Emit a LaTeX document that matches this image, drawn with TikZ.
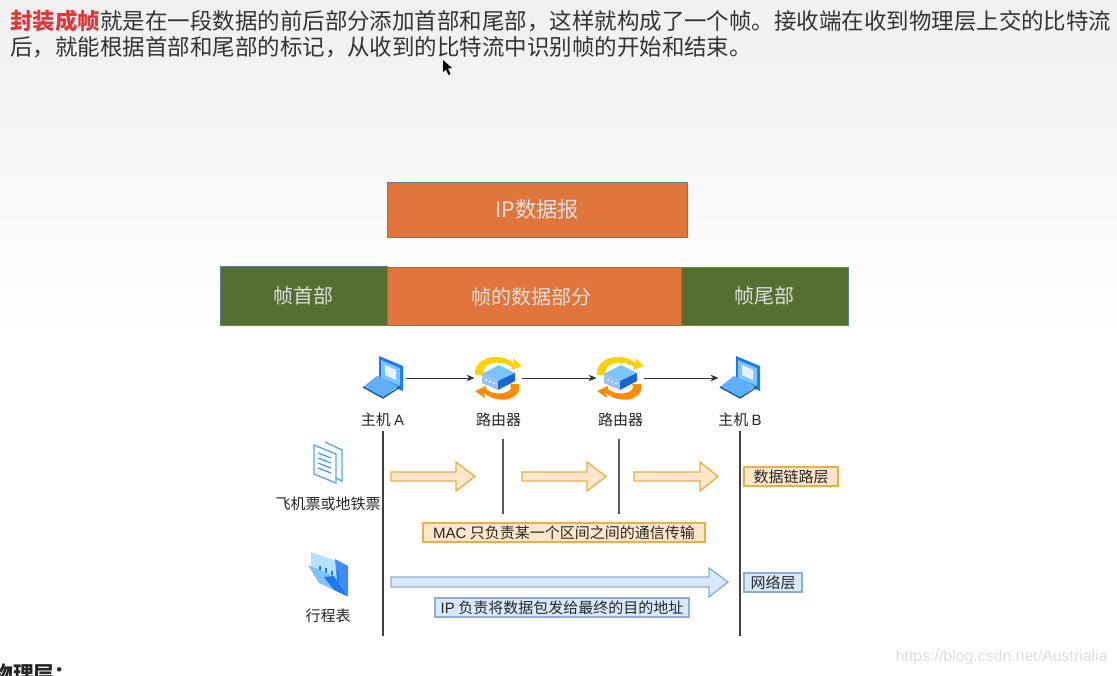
\documentclass[tikz,border=0pt]{standalone}
\usepackage{fontspec}
\setmainfont{Noto Sans CJK SC}
\newfontfamily\latinfont{Liberation Sans}
\usetikzlibrary{arrows.meta}
\definecolor{framegreen}{HTML}{546F30}
\definecolor{frameorange}{HTML}{E0763C}
\definecolor{frameedge}{HTML}{5F7F8F}
\definecolor{macfill}{HTML}{FFE6CC}
\definecolor{macedge}{HTML}{E8B045}
\definecolor{ipfill}{HTML}{DAE8FC}
\definecolor{ipedge}{HTML}{8FACD8}
\definecolor{iconblue}{HTML}{1E78F0}
\definecolor{iconlight}{HTML}{7CC4FF}
\definecolor{headred}{HTML}{E0393B}
\tikzset{every picture/.style={line width=0.75pt}}
\tikzset{
  framebox/.style={draw=frameedge,text=white!88!black,font=\fontsize{15}{18}\selectfont,inner sep=0pt},
  celllabel/.style={inner sep=0.75pt,text=black!85,font=\fontsize{11.25}{13}\selectfont},
  macbox/.style={draw=macedge,fill=macfill,line width=1pt,inner sep=0pt,text=black!85,font=\fontsize{11.25}{13}\selectfont},
  ipbox/.style={draw=ipedge,fill=ipfill,line width=1pt,inner sep=0pt,text=black!85,font=\fontsize{11.25}{13}\selectfont},
  macblock/.style={draw=macedge,fill=macfill,line width=1pt},
  ipblock/.style={draw=ipedge,fill=ipfill,line width=1pt},
  iconslot/.style={inner sep=0pt,minimum height=30pt},
  linkarrow/.style={-{Stealth[length=6pt,width=5pt]},line width=0.75pt,black!80},
  laptopicon/.pic={
    \fill[iconblue] (-4,-22) -- (20,-12) -- (20,13) -- (-4,3) -- cycle;
    \fill[iconlight] (-2,-18) -- (17,-10) -- (17,8) -- (-2,0) -- cycle;
    \fill[white!90!iconblue] (2,-13) -- (13,-8) -- (13,2) -- (2,-3) -- cycle;
    \fill[iconlight!70!iconblue] (-20,9) -- (-6,-2) -- (15,8) -- (0,20) -- cycle;
    \draw[iconblue!70!black,line width=1pt] (-20,9) -- (0,20) -- (17,9);
  },
  routericon/.pic={
    \fill[yellow!70!orange] (-23,-3) .. controls (-25,-20) and (0,-27) .. (16,-15) -- (15,-20) -- (24,-12) -- (13,-8)
      -- (14,-11) .. controls (0,-20) and (-18,-14) .. (-14,-3) -- cycle;
    \fill[orange!90!yellow] (21,6) .. controls (25,22) and (0,27) .. (-14,15) -- (-13,20) -- (-23,13) -- (-12,8)
      -- (-12,11) .. controls (-2,20) and (18,14) .. (12,6) -- cycle;
    \fill[iconlight] (-16,-4) -- (1,-13) -- (17,-5) -- (0,3) -- cycle;
    \fill[iconblue!45] (-16,-4) -- (0,3) -- (0,12) -- (-16,5) -- cycle;
    \fill[iconblue!85!black] (0,3) -- (17,-5) -- (17,3) -- (0,12) -- cycle;
    \foreach \dotx in {-12,-8,-4} \fill[white] (\dotx,{2+(\dotx+12)*0.42}) circle (1);
  },
  docicon/.pic={
    \draw[iconlight!60!iconblue,line width=1pt,fill=white] (-3,-20) -- (14,-12) -- (14,19) -- (8,16);
    \draw[iconlight!60!iconblue,line width=1pt,fill=white] (-14,-17) -- (8,-8) -- (8,21) -- (-14,12) -- cycle;
    \foreach \liney in {-9,-4,1,6} \draw[iconblue!80,line width=0.9pt] (-10,\liney) -- (3,{\liney+5});
    \foreach \liney in {-5,0,5} \fill[iconblue!70] (11,\liney) circle (0.7);
  },
  foldericon/.pic={
    \fill[iconlight!55] (-17,-23) -- (-17,-8) -- (9,8) -- (9,-14) -- cycle;
    \fill[iconblue!85] (7,-16) -- (20,-9) -- (20,21) -- (10,17) -- cycle;
    \draw[iconblue,line width=0.8pt] (-8,-9) -- (-8,-1) (-2,-7) -- (-2,2) (4,-4) -- (4,5) (10,-3) -- (10,7);
    \fill[iconlight] (-20,-10) -- (6,1) -- (19,21) -- (-9,8) -- cycle;
    \fill[iconblue] (-4,2) -- (6,1) -- (19,21) -- (6,15) -- cycle;
  }
}

\begin{document}
\begin{tikzpicture}[x=0.75pt,y=0.75pt,yscale=-1,xscale=1]
\useasboundingbox (0,0) rectangle (1117,675);

%Page background
\fill[white] (0,0) rectangle (1117,675);
\shade[top color=black!6,bottom color=white] (0,0) rectangle (1117,342);

% Text Node
\draw (10,21) node (headline) [anchor=west,inner sep=0pt,text=black!80,font=\fontsize{16.85}{20}\selectfont] {\textcolor{headred}{\bfseries 封装成帧}就是在一段数据的前后部分添加首部和尾部，这样就构成了一个帧。接收端在收到物理层上交的比特流};
% Text Node
\draw (10,47) node (headlinetwo) [anchor=west,inner sep=0pt,text=black!80,font=\fontsize{16.85}{20}\selectfont] {后，就能根据首部和尾部的标记，从收到的比特流中识别帧的开始和结束。};
% Text Node
\draw (-8,674) node (physical) [anchor=west,inner sep=0pt,text=black!85,font=\fontsize{15.5}{18}\bfseries\selectfont] {物理层：};
% Text Node
\draw (1108,657) node (watermark) [anchor=east,inner sep=0pt,text=black!13,font=\latinfont\fontsize{11.9}{15}\selectfont] {https://blog.csdn.net/Austrialia};

%Mouse pointer
\fill[black] (443,60) -- (443,72) -- (446,69.5) -- (448.5,75) -- (450.5,74) -- (448,68.5) -- (452,68) -- cycle;

%Frame boxes
\draw (537.2,209.5) node (ipdatagram) [framebox,fill=frameorange,minimum width=225.25pt,minimum height=41.25pt,font=\fontsize{16}{18}\selectfont] {IP数据报};
\draw (531,296.5) node (framedata) [framebox,fill=frameorange,minimum width=225pt,minimum height=43.5pt] {帧的数据部分};
\draw (303.5,295.5) node (framehead) [framebox,fill=framegreen,minimum width=125.25pt,minimum height=44.25pt] {帧首部};
\draw (764.5,296) node (frametail) [framebox,fill=framegreen,minimum width=125.25pt,minimum height=43.5pt] {帧尾部};

%Hosts and routers
\draw (383,378) node (hosta) [iconslot,minimum width=33pt] {};
\draw (498,378) node (routera) [iconslot,minimum width=34.5pt] {};
\draw (620,378) node (routerb) [iconslot,minimum width=34.5pt] {};
\draw (740,378) node (hostb) [iconslot,minimum width=31.5pt] {};
\path (383,378) pic [transform shape] {laptopicon};
\path (498,378) pic [transform shape] {routericon};
\path (620,378) pic [transform shape] {routericon};
\path (740,378) pic [transform shape] {laptopicon};

%Straight Lines
\draw [linkarrow] (hosta) -- (routera);
\draw [linkarrow] (routera) -- (routerb);
\draw [linkarrow] (routerb) -- (hostb);

% Text Node
\draw (382.5,420) node (lblhosta) [celllabel] {主机 {\latinfont A}};
% Text Node
\draw (498.5,420) node (lblroutera) [celllabel] {路由器};
% Text Node
\draw (620.5,420) node (lblrouterb) [celllabel] {路由器};
% Text Node
\draw (740,420) node (lblhostb) [celllabel] {主机 {\latinfont B}};

%Vertical Lines
\coordinate (hostatop) at (383,431);
\coordinate (hostabot) at (383,636);
\coordinate (routeratop) at (503,439);
\coordinate (routerabot) at (503,514);
\coordinate (routerbtop) at (619,439);
\coordinate (routerbbot) at (619,514);
\coordinate (hostbtop) at (740,431);
\coordinate (hostbbot) at (740,636);
\draw [black!75,line width=0.9pt] (hostatop) -- (hostabot);
\draw [black!65,line width=0.9pt] (routeratop) -- (routerabot);
\draw [black!65,line width=0.9pt] (routerbtop) -- (routerbbot);
\draw [black!75,line width=0.9pt] (hostbtop) -- (hostbbot);

%Block Arrows
\draw [macblock] (391,472) -- (456,472) -- (456,462) -- (475,476.5) -- (456,491) -- (456,481) -- (391,481) -- cycle;
\draw [macblock] (522,472) -- (587,472) -- (587,462) -- (606,476.5) -- (587,491) -- (587,481) -- (522,481) -- cycle;
\draw [macblock] (634,472) -- (700,472) -- (700,462) -- (718,476.5) -- (700,491) -- (700,481) -- (634,481) -- cycle;
\draw [ipblock] (391,577) -- (709,577) -- (709,568) -- (728,582) -- (709,597) -- (709,587) -- (391,587) -- cycle;

%Layer Boxes
\draw (791,476.5) node (linklayer) [macbox,minimum width=70.5pt,minimum height=14.25pt] {数据链路层};
\draw (564,532.5) node (macnote) [macbox,minimum width=211.5pt,minimum height=14.25pt] {{\latinfont MAC} 只负责某一个区间之间的通信传输};
\draw (773,582.5) node (netlayer) [ipbox,minimum width=43.5pt,minimum height=14.25pt] {网络层};
\draw (562,607.5) node (ipnote) [ipbox,minimum width=190.5pt,minimum height=14.25pt] {{\latinfont IP} 负责将数据包发给最终的目的地址};

%Side Icons
\path (328,462) pic [transform shape] {docicon};
\path (328,575) pic [transform shape] {foldericon};
% Text Node
\draw (328,504) node (lblticket) [celllabel] {飞机票或地铁票};
% Text Node
\draw (328,616) node (lblroute) [celllabel] {行程表};

\end{tikzpicture}
\end{document}
